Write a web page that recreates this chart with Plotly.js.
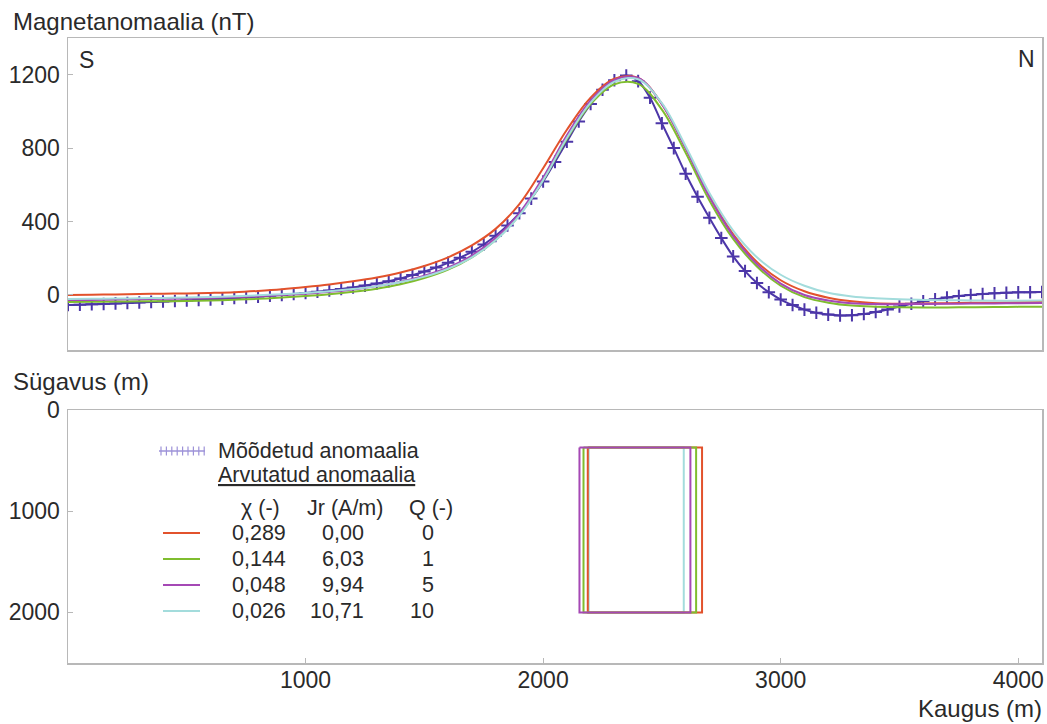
<!DOCTYPE html>
<html>
<head>
<meta charset="utf-8">
<script src="https://cdn.plot.ly/plotly-3.0.1.min.js"></script>
<style>html,body{margin:0;padding:0;background:#fff;}#chart{width:1047px;height:724px;}</style>
</head>
<body>
<div id="chart"></div>
<script>
// ---- data ----
const distModel = [0,100,200,300,400,500,600,700,800,900,1000,1100,1200,1300,1400,1500,1600,1700,1800,1900,2000,2100,2200,2300,2400,2500,2600,2700,2800,2900,3000,3100,3200,3300,3400,3500,3600,3700,3800,3900,4000,4100];
const modelQ0  = [0,1,3,5,7,8,11,15,22,31,43,57,74,95,122,158,205,270,360,495,690,900,1075,1178,1183,1040,800,540,330,180,80,20,-15,-35,-45,-48,-47,-45,-43,-42,-40,-38];
const modelQ1  = [-38,-37,-36,-35,-34,-33,-30,-26,-21,-14,-6,4,17,34,58,92,138,205,300,435,625,850,1040,1148,1150,1010,775,515,305,155,50,-12,-42,-58,-64,-67,-68,-68,-67,-66,-65,-64];
const modelQ5  = [-28,-27,-25,-23,-21,-19,-16,-12,-7,-1,7,17,30,48,72,105,150,215,310,445,640,870,1060,1172,1182,1040,800,535,322,168,62,0,-30,-45,-50,-50,-49,-48,-47,-46,-45,-44];
const modelQ10 = [-22,-21,-20,-18,-16,-14,-11,-7,-2,4,11,20,32,48,70,100,143,205,298,432,625,855,1048,1162,1175,1045,810,555,350,205,110,50,12,-8,-18,-24,-27,-29,-30,-31,-31,-30];

const distMeas = [0,50,100,150,200,250,300,350,400,450,500,550,600,650,700,750,800,850,900,950,1000,1050,1100,1150,1200,1250,1300,1350,1400,1450,1500,1550,1600,1650,1700,1750,1800,1850,1900,1950,2000,2050,2100,2150,2200,2250,2300,2350,2400,2450,2500,2550,2600,2650,2700,2750,2800,2850,2900,2950,3000,3050,3100,3150,3200,3250,3300,3350,3400,3450,3500,3550,3600,3650,3700,3750,3800,3850,3900,3950,4000,4050,4100];
const measured = [-55,-53,-51,-49,-46,-44,-41,-38,-36,-33,-30,-27,-24,-21,-17,-13,-9,-4,0,5,11,17,24,32,41,51,62,75,90,108,128,150,175,203,235,275,322,378,445,525,618,725,835,945,1040,1118,1170,1195,1165,1075,935,800,660,535,420,310,210,130,65,15,-25,-55,-80,-97,-107,-112,-111,-104,-93,-79,-63,-48,-35,-24,-14,-6,0,5,9,12,14,15,16];

// bodies (prisms) in the depth section
const bodyNames  = ['Q=10','Q=0','Q=1','Q=5'];
const bodyLeft   = [2192, 2188, 2170, 2153];
const bodyRight  = [2592, 2669, 2644, 2620];
const bodyTop    = [370, 370, 370, 370];
const bodyBottom = [2000, 2000, 2000, 2000];

// legend table
const chiVals = ['0,289','0,144','0,048','0,026'];
const jrVals  = ['0,00','6,03','9,94','10,71'];
const qVals   = ['0','1','5','10'];

const colQ0 = '#e2522c', colQ1 = '#7fbd2f', colQ5 = '#a548b5', colQ10 = '#a3dcdc';
const modelColors = [colQ0, colQ1, colQ5, colQ10];
const bodyColors = [colQ10, colQ0, colQ1, colQ5];
const measColor = '#4c36a8';
const FONT = 'Liberation Sans, Arial, sans-serif';
const TXT = '#2a2a2a';

// ---- traces ----
const traces = [];
traces.push({x: distMeas, y: measured, type:'scatter', mode:'lines+markers', xaxis:'x', yaxis:'y',
  line:{color: measColor, width:2, shape:'spline'},
  marker:{symbol:'cross-thin', size:9, line:{color: measColor, width:2}, color: measColor},
  hoverinfo:'skip', showlegend:false});
[modelQ0, modelQ1, modelQ5, modelQ10].forEach((v,i)=>{
  traces.push({x: distModel, y: v, type:'scatter', mode:'lines', xaxis:'x', yaxis:'y',
    line:{color: modelColors[i], width:2, shape:'spline'}, hoverinfo:'skip', showlegend:false});
});
bodyNames.forEach((n,i)=>{
  const l=bodyLeft[i], r=bodyRight[i], t=bodyTop[i], b=bodyBottom[i];
  traces.push({x:[l,r,r,l,l], y:[t,t,b,b,t], type:'scatter', mode:'lines', xaxis:'x2', yaxis:'y2',
    line:{color: bodyColors[i], width:2}, hoverinfo:'skip', showlegend:false, name:n});
});

// ---- layout helpers (pixel -> paper) ----
const L=68, R=1042, T=38, B=663;
const px = x => (x-L)/(R-L);
const py = y => (B-y)/(B-T);

const ann = [];
function txt(text, x, y, xa, size, extra){
  ann.push(Object.assign({text, xref:'paper', yref:'paper', x:px(x), y:py(y), xanchor:xa, yanchor:'middle',
    showarrow:false, font:{family:FONT, size:size, color:TXT}}, extra||{}));
}
txt('Magnetanomaalia (nT)', 11, 21, 'left', 24);
txt('Sügavus (m)', 11, 381, 'left', 24);
txt('Kaugus (m)', 1044, 708, 'right', 24);
txt('S', 77, 60, 'left', 23);
txt('N', 1037, 59, 'right', 23);
txt('Mõõdetud anomaalia', 216, 451, 'left', 21.5);
txt('<u>Arvutatud anomaalia</u>', 216, 475, 'left', 21.5);
txt('χ (-)', 260, 508, 'center', 21.5);
txt('Jr (A/m)', 345, 508, 'center', 21.5);
txt('Q (-)', 431, 508, 'center', 21.5);
const rowY = [533, 559, 585, 611];
const shapes = [];
rowY.forEach((y,i)=>{
  txt(chiVals[i], 288, y, 'right', 21.5);
  txt(jrVals[i], 366, y, 'right', 21.5);
  txt(qVals[i], 436, y, 'right', 21.5);
  shapes.push({type:'line', xref:'paper', yref:'paper', x0:px(163), x1:px(200), y0:py(y), y1:py(y),
    line:{color: modelColors[i], width:2}});
});
// measured legend sample: line with small crosses
shapes.push({type:'line', xref:'paper', yref:'paper', x0:px(159), x1:px(205), y0:py(451), y1:py(451),
  line:{color:'#9d92d8', width:1.5}});
for (let k=0;k<9;k++){
  const xx = 161 + k*5.4;
  shapes.push({type:'line', xref:'paper', yref:'paper', x0:px(xx), x1:px(xx), y0:py(446.5), y1:py(455.5),
    line:{color:'#9d92d8', width:1.2}});
}

const axisLine = '#b8b8b8';
const tickFont = {family:FONT, size:23, color:TXT};
const layout = {
  width:1047, height:724,
  margin:{l:L, r:1047-R, t:T, b:724-B, pad:0},
  paper_bgcolor:'#ffffff', plot_bgcolor:'#ffffff',
  showlegend:false,
  font:{family:FONT, color:TXT},
  xaxis:{domain:[0,1], anchor:'y', range:[0,4100], showticklabels:false, ticks:'', showgrid:false, zeroline:false,
    showline:true, mirror:true, linecolor:axisLine, linewidth:1.5},
  yaxis:{domain:[py(350),1], anchor:'x', range:[-300,1400], tickvals:[0,400,800,1200], ticks:'inside', ticklen:5,
    tickcolor:axisLine, showgrid:false, zeroline:false, showline:true, mirror:true, linecolor:axisLine, linewidth:1.5,
    tickfont:tickFont, ticklabelstandoff:2},
  xaxis2:{domain:[0,1], anchor:'y2', range:[0,4100], tickvals:[1000,2000,3000,4000], ticks:'inside', ticklen:5,
    tickcolor:axisLine, showgrid:false, zeroline:false, showline:true, mirror:true, linecolor:axisLine, linewidth:1.5,
    tickfont:tickFont, ticklabelstandoff:-4},
  yaxis2:{domain:[0,py(410)], anchor:'x2', range:[2500,0], tickvals:[0,1000,2000], ticks:'inside', ticklen:5,
    tickcolor:axisLine, showgrid:false, zeroline:false, showline:true, mirror:true, linecolor:axisLine, linewidth:1.5,
    tickfont:tickFont, ticklabelstandoff:2},
  annotations: ann,
  shapes: shapes
};
Plotly.newPlot('chart', traces, layout, {displayModeBar:false, staticPlot:true});
</script>
</body>
</html>
